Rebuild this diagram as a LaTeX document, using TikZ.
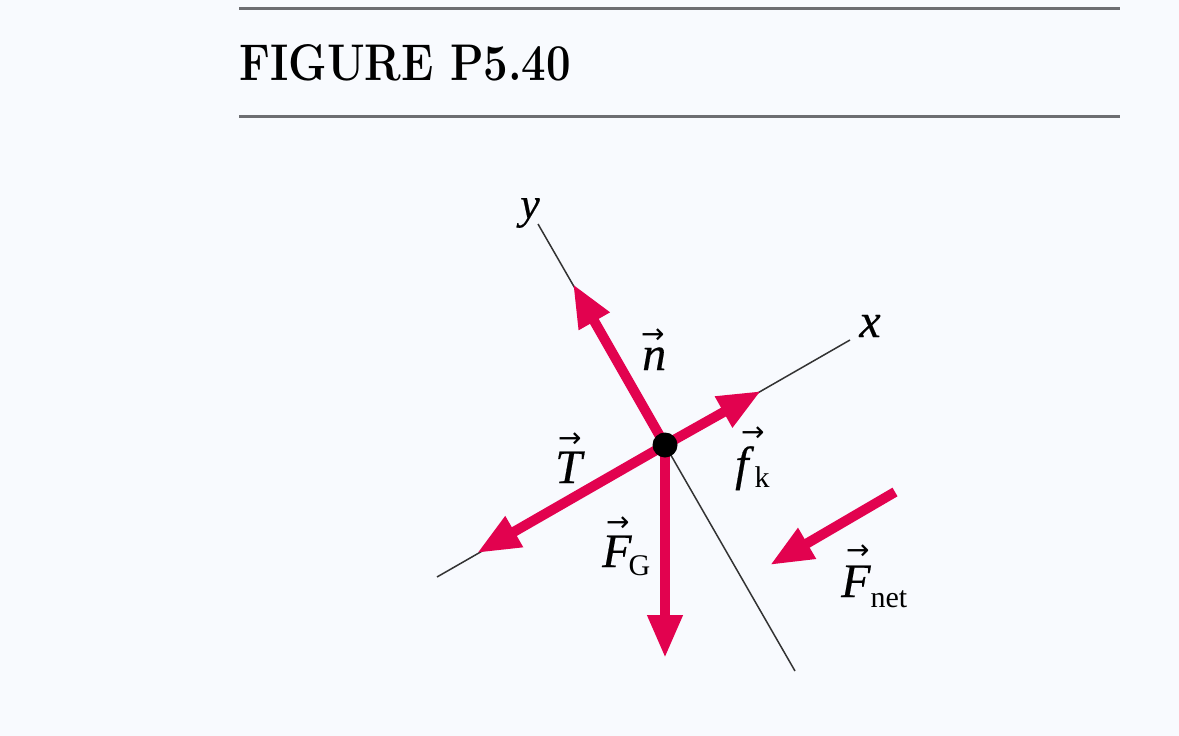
\documentclass[tikz,border=0pt]{standalone}
\usepackage{fontspec}
\newfontfamily\labrm{Liberation Serif}
\newfontface\arrowfont{DejaVu Sans}
\newfontface\labit[FakeBold=0.4]{Liberation Serif Italic}
\usetikzlibrary{arrows.meta}
\definecolor{bgc}{HTML}{F8FAFE}
\definecolor{forcec}{HTML}{E2024F}
\definecolor{rulec}{HTML}{6D6E72}
\definecolor{axisc}{HTML}{333333}
\newcommand{\vecsym}[3]{\leavevmode\rlap{\hspace{#1}\raisebox{#2}{\arrowfont\fontsize{28}{28}\selectfont →}}{\labit #3}}
\newcommand{\subs}[2][-10pt]{\raisebox{#1}{\labrm\fontsize{30}{30}\selectfont #2}}
\tikzset{
  rulel/.style={draw=rulec,line width=3pt},
  axisl/.style={draw=axisc,line width=1.5pt},
  force/.style={draw=forcec,line width=10pt,-{Triangle[length=43pt,width=33pt]}},
  lab/.style={inner sep=0pt,font=\labrm\fontsize{48}{48}\selectfont,text=black},
  dotn/.style={circle,fill=black,minimum size=25pt,inner sep=0pt}
}
\begin{document}
\begin{tikzpicture}[x=1pt,y=-1pt]
\useasboundingbox[fill=bgc] (0,0) rectangle (1179,736);
\coordinate (r1a) at (239,8); \coordinate (r1b) at (1120,8);
\coordinate (r2a) at (239,116); \coordinate (r2b) at (1120,116);
\draw[rulel] (r1a) -- (r1b);
\draw[rulel] (r2a) -- (r2b);
\node[anchor=base west,inner sep=0pt,text=black] (title) at (239,80) {\resizebox{332pt}{36pt}{\fontsize{52}{52}\selectfont\bfseries FIGURE P5.40}};
\coordinate (c) at (665,445);
\coordinate (ye) at (538,224); \coordinate (yb) at (795,671);
\coordinate (xe) at (850,340); \coordinate (xb) at (437,577);
\draw[axisl] (ye) -- (yb);
\draw[axisl] (xb) -- (xe);
\coordinate (nt) at (573,284); \coordinate (ft) at (761,391);
\coordinate (tt) at (477,553); \coordinate (gt) at (665,658);
\coordinate (ns) at (895,492); \coordinate (ne) at (770,565);
\draw[force] (c) -- (nt);
\draw[force] (c) -- (ft);
\draw[force] (c) -- (tt);
\draw[force] (c) -- (gt);
\draw[force] (ns) -- (ne);
\node[dotn] (dot) at (c) {};
\node[lab,font=\fontsize{44}{44}\selectfont] (ly) at (530,213) {\labit y};
\node[lab] (lx) at (870,326) {\labit x};
\node[lab,anchor=base west] (ln) at (642,370) {\vecsym{-1pt}{27pt}{n}};
\node[lab,anchor=base west] (lt) at (555,483) {\vecsym{3pt}{36pt}{T}};
\node[lab,anchor=base west] (lf) at (735,480) {\vecsym{6pt}{39pt}{f}\hspace{6pt}\subs[-7pt]{k}};
\node[lab,anchor=base west] (lg) at (602,567) {\vecsym{4pt}{36pt}{F}\hspace{-3pt}\subs[-8pt]{G}};
\node[lab,anchor=base west] (ln2) at (841,597) {\vecsym{5pt}{38pt}{F}\subs{net}};
\end{tikzpicture}
\end{document}
